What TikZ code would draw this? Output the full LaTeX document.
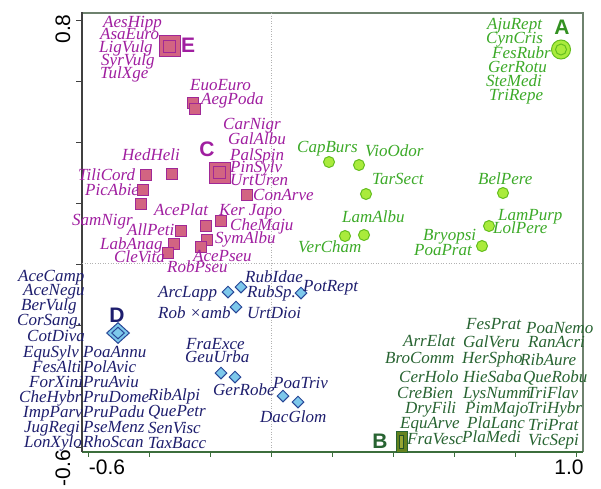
\documentclass[tikz,border=0pt]{standalone}
\usepackage{fontspec}
\setmainfont{Liberation Serif}
\newfontfamily\axfont{Liberation Sans}
\usetikzlibrary{shapes.geometric}
\definecolor{pc}{RGB}{160,30,160}
\definecolor{sqfill}{RGB}{210,100,130}
\definecolor{sqdraw}{RGB}{160,40,150}
\definecolor{gc}{RGB}{60,170,40}
\definecolor{cfill}{RGB}{170,235,60}
\definecolor{cdraw}{RGB}{100,190,30}
\definecolor{dc}{RGB}{30,30,110}
\definecolor{dfill}{RGB}{125,200,235}
\definecolor{ddraw}{RGB}{40,70,150}
\definecolor{bc}{RGB}{40,100,50}
\definecolor{bfill}{RGB}{100,130,30}
\definecolor{binner}{RGB}{150,165,50}
\definecolor{framec}{RGB}{110,130,110}
\definecolor{botc}{RGB}{60,110,60}
\tikzset{
  lab/.style={inner sep=0pt,anchor=base west,font=\fontsize{17}{17}\selectfont\itshape},
  lp/.style={lab,text=pc},
  lg/.style={lab,text=gc},
  ld/.style={lab,text=dc},
  lb/.style={lab,text=bc},
  sq/.style={rectangle,draw=sqdraw,fill=sqfill,line width=1pt,minimum size=11pt,inner sep=0pt},
  ci/.style={circle,draw=cdraw,fill=cfill,line width=1pt,minimum size=11pt,inner sep=0pt},
  dm/.style={diamond,draw=ddraw,fill=dfill,line width=1pt,minimum width=12pt,minimum height=12pt,inner sep=0pt},
  big/.style={inner sep=0pt,font=\axfont\bfseries\fontsize{21}{21}\selectfont},
  axl/.style={inner sep=0pt,font=\axfont\fontsize{21}{21}\selectfont},
}
\begin{document}
\begin{tikzpicture}[x=1pt,y=-1pt]
\useasboundingbox[fill=white] (0,0) rectangle (601,488);
% frame
\draw[framec,line width=1.2pt] (82,13) -- (583,13) -- (583,452);
\draw[botc,line width=1.2pt] (82,452) -- (583,452);
\draw[black!75,line width=1.5pt] (82,12) -- (82,452);
\draw[gray!60,dotted,line width=0.6pt] (271,13) -- (271,452);
\draw[gray!60,dotted,line width=0.6pt] (82,263) -- (583,263);
\foreach \t in {20,81,142,203,264,325,386,447} \draw[black!75,line width=1pt] (76,\t) -- (82,\t);
\foreach \t in {88,149,210,271,332,393,454,515,576} \draw[botc,line width=1pt] (\t,452) -- (\t,457);
\node[axl,rotate=90] (y08) at (63,29) {0.8};
\node[axl,rotate=90] (ym06) at (63,468) {-0.6};
\node[axl] (xm06) at (107,467) {-0.6};
\node[axl] (x10) at (569,467) {1.0};
% ---- group E / C (purple)
\node[sq,minimum size=21pt] (bigE) at (169.5,46) {};
\node[sq,minimum size=12pt] (bigEi) at (169.5,46) {};
\node[big,text=pc] (lE) at (188,45) {E};
\node[sq,minimum size=21pt] (bigC) at (219.5,172.5) {};
\node[sq,minimum size=12pt] (bigCi) at (219.5,172.5) {};
\node[big,text=pc] (lC) at (207,149) {C};
\foreach \p [count=\i] in {(192.5,103),(195,109),(146,175),(172,174),(143,190),(141,204),(181,231),(206,226),(221,221),(207,240),(174,244),(201,247),(168,253),(246.5,194.5)}
  \node[sq] (s\i) at \p {};
\node[lp] (AesHipp) at (103,27) {AesHipp};
\node[lp] (AsaEuro) at (100,39) {AsaEuro};
\node[lp] (LigVulg) at (99,52) {LigVulg};
\node[lp] (SyrVulg) at (101,65) {SyrVulg};
\node[lp] (TulXge) at (100,78) {TulXge};
\node[lp] (EuoEuro) at (190,90) {EuoEuro};
\node[lp] (AegPoda) at (201,104) {AegPoda};
\node[lp] (CarNigr) at (223,129) {CarNigr};
\node[lp] (GalAlbu) at (228,144) {GalAlbu};
\node[lp] (PalSpin) at (230,160) {PalSpin};
\node[lp] (PinSylv) at (230,172) {PinSylv};
\node[lp] (UrtUren) at (230,185) {UrtUren};
\node[lp] (ConArve) at (253,200) {ConArve};
\node[lp] (HedHeli) at (122,160) {HedHeli};
\node[lp] (TiliCord) at (78,180) {TiliCord};
\node[lp] (PicAbie) at (85,195) {PicAbie};
\node[lp] (SamNigr) at (72,225) {SamNigr};
\node[lp] (AcePlat) at (154,215) {AcePlat};
\node[lp] (KerJapo) at (219,215) {Ker Japo};
\node[lp] (CheMaju) at (230,230) {CheMaju};
\node[lp] (AllPeti) at (127,235) {AllPeti};
\node[lp] (SymAlbu) at (215,243) {SymAlbu};
\node[lp] (LabAnag) at (100,249) {LabAnag};
\node[lp] (AcePseu) at (193,261) {AcePseu};
\node[lp] (CleVita) at (114,262) {CleVita};
\node[lp] (RobPseu) at (167,272) {RobPseu};
% ---- group A (green)
\node[ci,minimum size=19pt] (bigA) at (561,49.5) {};
\node[ci,minimum size=11pt] (bigAi) at (561,49.5) {};
\node[big,text=gc!85!black] (lA) at (562,27) {A};
\foreach \p [count=\i] in {(329,162),(359,165),(366,194),(503,193),(489,226),(345,236),(364,235),(482,246)}
  \node[ci] (c\i) at \p {};
\node[lg] (AjuRept) at (487,29) {AjuRept};
\node[lg] (CynCris) at (486,43) {CynCris};
\node[lg] (FesRubr) at (492,58) {FesRubr};
\node[lg] (GerRotu) at (488,72) {GerRotu};
\node[lg] (SteMedi) at (486,86) {SteMedi};
\node[lg] (TriRepe) at (489,100) {TriRepe};
\node[lg] (CapBurs) at (297,152) {CapBurs};
\node[lg] (VioOdor) at (365,156) {VioOdor};
\node[lg] (TarSect) at (372,184) {TarSect};
\node[lg] (BelPere) at (478,184) {BelPere};
\node[lg] (LamAlbu) at (342,222) {LamAlbu};
\node[lg] (LamPurp) at (498,220) {LamPurp};
\node[lg] (LolPere) at (493,233) {LolPere};
\node[lg] (Bryopsi) at (423,240) {Bryopsi};
\node[lg] (PoaPrat) at (414,255) {PoaPrat};
\node[lg] (VerCham) at (298,252) {VerCham};
% ---- group D (navy)
\node[dm,minimum width=23pt,minimum height=21pt] (bigD) at (118,333) {};
\node[dm,minimum width=13pt,minimum height=12pt] (bigDi) at (118,333) {};
\node[big,text=dc] (lD) at (117,315) {D};
\foreach \p [count=\i] in {(228,292),(241,287),(236,307),(301,293),(221,373),(235,377),(283,396),(298,402)}
  \node[dm] (d\i) at \p {};
\node[ld] (AceCamp) at (18,281) {AceCamp};
\node[ld] (AceNegu) at (23,295) {AceNegu};
\node[ld] (BerVulg) at (21,310) {BerVulg};
\node[ld] (CorSang) at (17,325) {CorSang.};
\node[ld] (CotDiva) at (27,341) {CotDiva};
\node[ld] (EquSylv) at (23,357) {EquSylv};
\node[ld] (FesAlti) at (32,372) {FesAlti};
\node[ld] (ForXini) at (29,387) {ForXini};
\node[ld] (CheHybr) at (19,402) {CheHybr};
\node[ld] (ImpParv) at (23,417) {ImpParv};
\node[ld] (JugRegi) at (24,432) {JugRegi};
\node[ld] (LonXylo) at (24,447) {LonXylo};
\node[ld] (PoaAnnu) at (83,357) {PoaAnnu};
\node[ld] (PolAvic) at (83,372) {PolAvic};
\node[ld] (PruAviu) at (83,387) {PruAviu};
\node[ld] (PruDome) at (83,402) {PruDome};
\node[ld] (PruPadu) at (83,417) {PruPadu};
\node[ld] (PseMenz) at (83,432) {PseMenz};
\node[ld] (RhoScan) at (83,447) {RhoScan};
\node[ld] (RibAlpi) at (148,400) {RibAlpi};
\node[ld] (QuePetr) at (148,416) {QuePetr};
\node[ld] (SenVisc) at (148,433) {SenVisc};
\node[ld] (TaxBacc) at (148,448) {TaxBacc};
\node[ld] (ArcLapp) at (158,297) {ArcLapp};
\node[ld] (RubIdae) at (245,282) {RubIdae};
\node[ld] (RubSp) at (247,297) {RubSp.};
\node[ld] (PotRept) at (303,291) {PotRept};
\node[ld] (Robamb) at (158,318) {Rob ×amb};
\node[ld] (UrtDioi) at (247,318) {UrtDioi};
\node[ld] (FraExce) at (186,349) {FraExce};
\node[ld] (GeuUrba) at (185,362) {GeuUrba};
\node[ld] (GerRobe) at (213,395) {GerRobe};
\node[ld] (PoaTriv) at (273,388) {PoaTriv};
\node[ld] (DacGlom) at (260,422) {DacGlom};
% ---- group B (dark green)
\node[rectangle,draw=bc,fill=bfill,line width=1pt,minimum width=11pt,minimum height=21pt,inner sep=0pt] (bigB) at (401.5,441.5) {};
\node[rectangle,draw=bc!80!black,fill=binner,line width=0.6pt,minimum width=4pt,minimum height=13pt,inner sep=0pt] (bigBi) at (401.5,441.5) {};
\node[big,text=bc] (lB) at (380,441) {B};
\node[lb] (FesPrat) at (466,329) {FesPrat};
\node[lb] (PoaNemo) at (526,333) {PoaNemo};
\node[lb] (ArrElat) at (403,346) {ArrElat};
\node[lb] (GalVeru) at (463,347) {GalVeru};
\node[lb] (RanAcri) at (528,347) {RanAcri};
\node[lb] (BroComm) at (385,363) {BroComm};
\node[lb] (HerSpho) at (462,363) {HerSpho};
\node[lb] (RibAure) at (520,365) {RibAure};
\node[lb] (CerHolo) at (399,382) {CerHolo};
\node[lb] (HieSaba) at (463,382) {HieSaba};
\node[lb] (QueRobu) at (523,382) {QueRobu};
\node[lb] (CreBien) at (397,398) {CreBien};
\node[lb] (LysNumm) at (463,398) {LysNumm};
\node[lb] (TriFlav) at (527,398) {TriFlav};
\node[lb] (DryFili) at (405,413) {DryFili};
\node[lb] (PimMajo) at (465,413) {PimMajo};
\node[lb] (TriHybr) at (527,413) {TriHybr};
\node[lb] (EquArve) at (400,428) {EquArve};
\node[lb] (PlaLanc) at (467,428) {PlaLanc};
\node[lb] (TriPrat) at (528,430) {TriPrat};
\node[lb] (FraVesc) at (407,444) {FraVesc};
\node[lb] (PlaMedi) at (462,442) {PlaMedi};
\node[lb] (VicSepi) at (528,445) {VicSepi};
\end{tikzpicture}
\end{document}
